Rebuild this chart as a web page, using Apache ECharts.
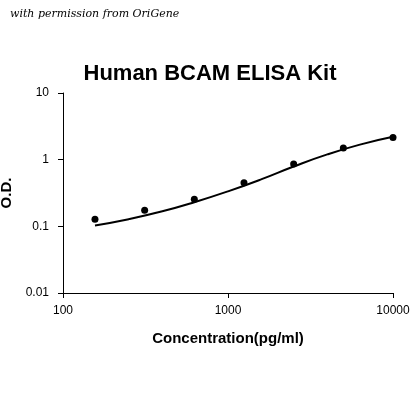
<!DOCTYPE html>
<html>
<head>
<meta charset="utf-8">
<script src="https://cdn.jsdelivr.net/npm/echarts@6/dist/echarts.min.js"></script>
<style>html,body{margin:0;padding:0;background:#fff}#c{width:420px;height:420px}</style>
</head>
<body>
<div id="c"></div>
<script>
// 标准点
const concs = [156.25, 312.5, 625, 1250, 2500, 5000, 10000];
const odVals = [0.128, 0.175, 0.255, 0.45, 0.86, 1.5, 2.15];
// 拟合曲线
const curveX = [156.25, 250, 400, 625, 1000, 1600, 2500, 4000, 6300, 10000];
const curveY = [0.103, 0.128, 0.168, 0.23, 0.335, 0.51, 0.79, 1.2, 1.68, 2.2];

const chart = echarts.init(document.getElementById('c'));
chart.setOption({
    animation: false,
    graphic: [{
        type: 'text', left: 10, top: 9,
        style: { text: 'with permission from OriGene', font: 'italic 11px "DejaVu Serif", serif', fill: '#000' }
    }],
    title: {
        text: 'Human BCAM ELISA Kit', left: 'center', top: 58,
        textStyle: { fontFamily: 'Liberation Sans, Arial', fontSize: 22, fontWeight: 'bold', color: '#000' }
    },
    grid: { left: 63, right: 27, top: 93, bottom: 127, containLabel: false, outerBoundsMode: 'none' },
    xAxis: {
        type: 'log', logBase: 10, min: 100, max: 10000,
        name: 'Concentration(pg/ml)', nameLocation: 'middle', nameGap: 38,
        nameTextStyle: { fontFamily: 'Liberation Sans, Arial', fontSize: 15, fontWeight: 'bold', color: '#000' },
        axisLine: { lineStyle: { color: '#000' } },
        axisTick: { lineStyle: { color: '#000' } },
        axisLabel: { color: '#000', fontSize: 12, fontFamily: 'Liberation Sans, Arial', margin: 12, formatter: v => String(v) },
        splitLine: { show: false }
    },
    yAxis: {
        type: 'log', logBase: 10, min: 0.01, max: 10,
        name: 'O.D.', nameLocation: 'middle', nameGap: 40,
        nameTextStyle: { fontFamily: 'Liberation Sans, Arial', fontSize: 15, fontWeight: 'bold', color: '#000' },
        axisLine: { show: true, lineStyle: { color: '#000' } },
        axisTick: { show: true, lineStyle: { color: '#000' } },
        axisLabel: { color: '#000', fontSize: 12, fontFamily: 'Liberation Sans, Arial', margin: 14, formatter: v => String(v) },
        splitLine: { show: false }
    },
    series: [
        {
            type: 'line', smooth: true, showSymbol: false,
            data: curveX.map((x, i) => [x, curveY[i]]),
            lineStyle: { color: '#000', width: 2 }
        },
        {
            type: 'scatter', symbolSize: 7,
            data: concs.map((x, i) => [x, odVals[i]]),
            itemStyle: { color: '#000', opacity: 1 }
        }
    ]
});
</script>
</body>
</html>
